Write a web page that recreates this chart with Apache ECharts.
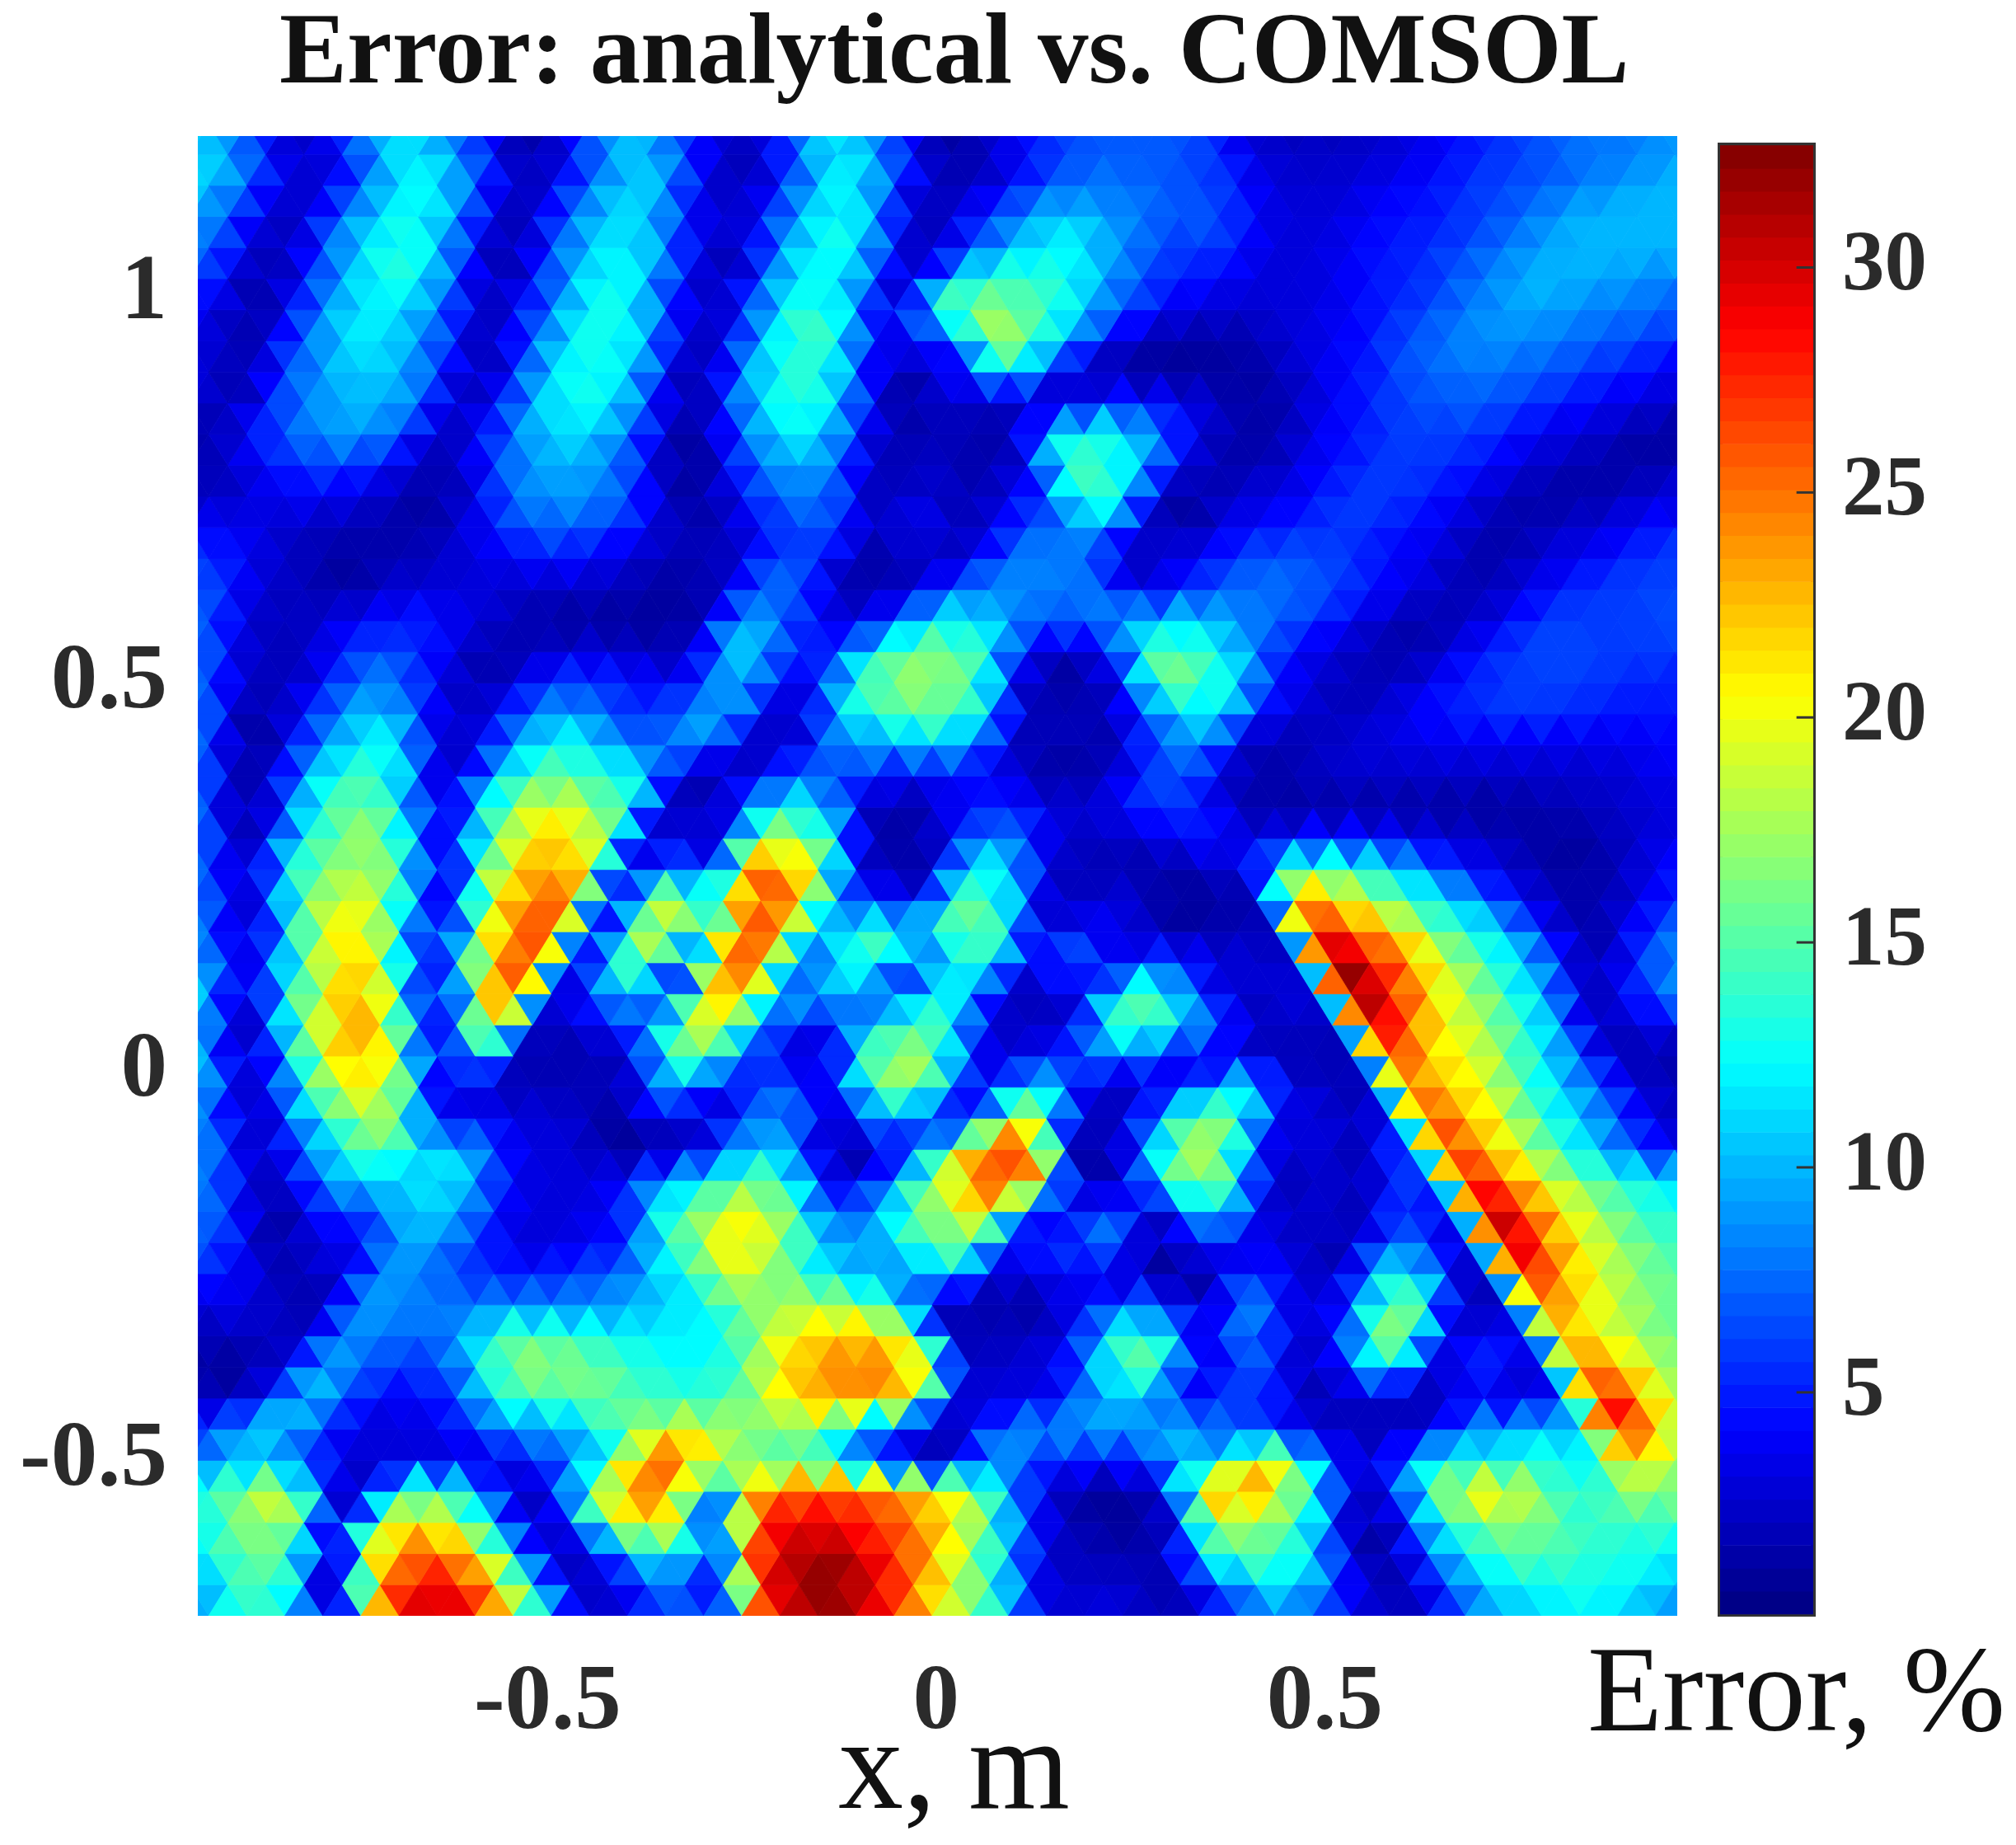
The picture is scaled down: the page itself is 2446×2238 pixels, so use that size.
<!DOCTYPE html>
<html>
<head>
<meta charset="utf-8">
<title>Error: analytical vs. COMSOL</title>
<script src="https://cdn.jsdelivr.net/npm/echarts@6/dist/echarts.min.js"></script>
<style>
  html, body { margin: 0; padding: 0; background: #fff; }
  #chart { width: 2446px; height: 2238px; }
</style>
</head>
<body>
<div id="chart"></div>
<script>
// Error (%) at each mesh node, top row first
const row48 = [11,10,6,2,4,9,12,9,5,1,3,8,11,7,3,2,6,12,10,5,1,2,4,6,7,7,7,6,3,2,2,2,3,4,5,6,7,8,8,9,9];
const row47 = [11,10,6,2,4,9,12,9,5,1,3,8,11,7,3,2,6,12,10,5,1,2,4,6,7,7,7,6,3,2.5,2.5,2.5,3,4,5,6,7,8,8,9,9];
const row46 = [11,11,7,3,3,7,12,12,7,2,4,8,11,9,3,1,6,11,12,6,2,2,4,7,8,8,7,6,5,3,2.5,3,4,4.5,6,6.5,7,8,9,10,10];
const row45 = [9,7,3,2,8,11,13,9,3,2,7,11,11,5,3,4,9,13,9,2,3,6,9,11,9,8,7,7,4,3,3,4,4.5,5,6,7.5,9.5,10,10,10,10];
const row44 = [8,8,3,2,7,11,14,10,4,1,7,11,12,8,3,2,9,13,12,5,1.5,6,10,12,12,9,6,6,5,3,3,4,5,5.5,6.5,8,9,10,10,10,10];
const row43 = [6,4,1,4,9,13,13,7,1.5,4,9,13,11,5,1,6,12,12,6,2,11,14,14,13,9,7,5,4.5,3,3,3.5,4.5,5,6.5,8,10,10,9.5,9,8,8];
const row42 = [4,4,1,4,9,12,11,8,2,4,8,13,12,5,2,6,12,14,9,2,15,16,17,14,11,7,4,3,2.5,3,3,4,5.5,6,8,9,9.5,8.5,8,7.5,7];
const row41 = [3,2,2,7,11,12,9,5,1.5,7,12,13,11,4,2,9,15,13,4,5,4,19,15,10,4,2,1,1.5,1.5,3,4,4.5,7,8,9,8.5,8,7,6.5,5,5];
const row40 = [3,3,1.5,7,9,11,10,6,1.5,5,11,13,11,3,1,10,13,13,7,1,3,6,13,6,2,1,1,1,1,2,3,4.5,6,7,8,7.5,7,6,5,4.5,3];
const row39 = [3,1.5,4,8,10,10,8,2,4,10,13,12,7,2,4,10,15,11,4,1,3,2,2,2,6,5,4,2.5,1,2,4,5,6.5,7,7,6,5,4,3,2.5,2];
const row38 = [1.5,1.5,5,7,9,9,7,2,4,8,11,11,8,2,1,8,12,11,5,1.5,2,1,2,11,13,12,8,3,1.5,1.5,3.5,4.5,6,6,6,5,3.5,3,2,1.2,1];
const row37 = [2,2,4,6,6,5,2,2,6,9,10,8,4,1,3,7,10,8,2,2,2.5,1.5,3,14,14,10,4,1.5,1.5,3,4.5,5.5,6,5.5,4.5,3,2,1.5,1,2,2];
const row36 = [2,2,3,4,4,3,2,1,3,8,9,9,7,2,1,5,8,8,3,2,3,1,4,6,15,12,2,1,3,3,4.5,6,6,5,3.5,2,1.5,1,2,3,3];
const row35 = [4,4,3,2,2,1.5,1,3,5,7,7,6,4,2,1.5,4,6,7,2,5,2,3,6,8,10,3,1,3,4.5,5,6,5.5,4.5,3.5,2,1.2,2.5,3,4,5,5];
const row34 = [6,6,4,2.5,1.5,1,2,2,3,4,5,4,3,1.5,2,3,7,5,1.5,1.5,2,3,8,9,7,1,3,4,6,7,6.5,5.5,4,3.5,1.5,1.5,3,3.5,5,6,6];
const row33 = [7,5,2.5,2,1,2.5,3,3,3,2,2.5,2,1.5,1,2,8,7,2,1.5,3,7,9,8,8,8,3,5,7,8,7.5,6.5,5,3.5,2,2,3,5,6,6,6.5,6.5];
const row32 = [7,7,3,2,3,4,5,5,3,2,1,1,1,1,2,10,7,4,3,7,12,12,9,7,7,9,11,11,9,7,6,3.5,2,1.5,2,4,6,6,6,6.5,6.5];
const row31 = [8,4,2,2,5,7,5,3,1,2,3,3,2,2,10,11,5,6,13,16,16,13,4,2,4,13,16,12,8,4,3,2,1,3,5,6,7,6,6,6,6];
const row30 = [7,7,2.5,2,4,8,8,4,1.5,3,6,6,5,4,5,10,3,5,14,17,17.5,15,5,1,1,4,16,15,12,5,3,1.5,2,3.5,5,6,6,6,5.5,5,5];
const row29 = [9,3,1,5,9,11,6,2,4,8,10,7,5,9,10,5,2,10,14,15,15,11,1.5,3,1.5,7,10,12,5,3,2,2.5,4,5,5.5,6,5.5,5,4.5,5,5];
const row28 = [7,7,1,3,8,12,12,3,3,9,13,12,8,7,9,2,1.5,6,9,9,11,8,3,1.5,1.5,2,6,10,3,1,2,3,3,3.5,3.5,3.5,3.5,3.5,3.5,4,4];
const row27 = [8,2,2,10,14,14,7,1.5,10,15,15,13,12,2,1,5,7,7,5,3.5,5,4,2,1,2,6,7,3,1.5,2,2.5,2.5,2.5,2.5,2.5,2.5,2.5,2.5,3,4,4];
const row26 = [7,7,1,6,13,17,11,3,11,17,20,18,14,2,2,7,13,12,3,1.5,2,4,6,3,3,4,6,5,2,1,1.2,1.2,1.2,1.2,1,1,1.5,2,2.5,3,3];
const row25 = [9,2,3,13,16,17,9,3,15,22,21,16,1.5,5,2,18,17,11,1.5,1,5,9,6,2.5,2,3,4,5,3,5,5,5,4,3,2.5,1.5,1,1.5,2.5,3.5,4];
const row24 = [7,7,3,12,16,18,14,3,14,20,24,20,2,9,3,22,26,19,3,2,1.5,12,12,3,2,1.5,1,2,3,12,16,14,12,8,4.5,3,1.5,1,2,4,5];
const row23 = [9,3,4,15,20,18,8,3,20,26,24,2,16,19,14,28,21,8,6,3,15,14,6,1.5,3,3,1,1,1.5,24,22,18,14,12,8,4,2,1.5,3,5,6];
const row22 = [8,8,2,11,19,21,12,4,16,24,26,3,11,20,9,26,23,10,12,15,10,18,12,2,6,3,1,1.5,2,2,30,25,23,17,13,11,5,1,3,7,8];
const row21 = [10,4,5,15,22,19,5,9,23,27.5,1.5,12,20,2,25,25,1.5,12,15,4,12,13,3,10,3,6,7,3,3,2,33,29,24,19,15,11,6,1.5,5,9,9];
const row20 = [11,11,2.5,12,18,24,14,2,17,26,3,6,11,2,21,22,9,11,9,4,14,9,2.5,2,3,14,15,5,2,3,3,33,28,22,18,14,10,2,4,7,9];
const row19 = [10,1.5,5,17,23,21,7,6,23,3,2,5,8,18,19,8,6,3,11,15,12,3,2,3,13,15,11,9,2,2.5,2,31,26,20,18,14,9,1.5,3,4,4];
const row18 = [10,10,2,9,18,24,17,1,15,2,1,2,2,13,16,8,2.5,2,14,18,16,6,2.5,5,6,9,6,2,3,2,1.5,2,27,22,20,16,12,7,2,1.5,1.5];
const row17 = [11,4,3,13,20,20,10,3,2,2,2,1.5,6,10,2,6,8,3,14,18,9,3,14,8,2,2,4,11,12,3,2,2,25,22,20,15,11,7,3,2,2];
const row16 = [8,8,1.5,6,13,17,16,3,5,3,3,2,1,5,2,7,9,2,7,10,5,3,20,14,2,3,11,17,14,3,4,1.5,6,27,23,19,14,11,7,3,2];
const row15 = [9,6,2,7,12,17,10,12,6,3,3,1,1,1,7,11,8,1,1.5,5,17,25,27,3,1,6,16,18,7,2,3,2,6,27,23,19,14,10,6,4,5];
const row14 = [8,8,3,2.5,9,11,11,12,9,4,3,3,5,11,11,15,15,5,3,9,17,25,26,19,1,3,14,18,10,2,3,1,6,5,29,25,20,16,14,12,11];
const row13 = [8,6,1,3,6,7,11,10,5,3,3,4,9,15,20,19,14,6,9,16,18,22,5,2,8,1.5,5,14,5,1.5,3,2,6,3,31,27,21,18,14,13,13];
const row12 = [7,7,4,1,4,3,10,9,6,3,3,4,5,14,17,22,18,11,9,12,15,16,5,5,7,8,1,6,3,3,2.5,1.5,8,6,2,32,26,20,17,15,14];
const row11 = [6,4,2,2,3,9,8,6,5,5,6,7,10,12,20,17,14,11,9,8,12,3,3,5,2,1.5,1,2,7,3,1.5,9,14,5,2,29,24,20,17,15,15];
const row10 = [3,3,4,2,1,9,9,8,8,9,8,9,9,11,12,16,18,18,17,13,2,1.5,1.5,1,4,8,7,1.5,9,5,3,6,16,12,2,2,25,21,18,16,16];
const row9 = [2,2,2,2.5,9,8,7,9,14,15,14,13,12,12,13,17,21,22,22,17,2,2,2,4,11,15,8,3,9,2.5,4,15,18,2,5,3,23,20,18,15,15];
const row8 = [1,1,1,3,11,7,6,6,11,17,17,16,14,13,12,15,21,24,25,24,19,2,3,3,7,15,15,3,7,5,1.5,7,13,3,5,5,3,25,23,18,17];
const row7 = [3,1.5,5,11,7,4,4,6,13,14,15,16,14,14,14,18,22,23,24,19,3,3,3,5,11,9,4,5,6,3,1.5,3,2,2,4,1,7,29,24,18,18];
const row6 = [6,6,11,11,6,3,3,3.5,6,9,9,11,16,19,19,17,16,17,9,7,2,3,9,9,9,9,10,10,7,5,3,2,1.5,3,9,10,11,9,31,22,18];
const row5 = [7,10,9,6,3,3,3,3,3,5,8,12,24,28,18,15,15,11,5,2,2,10,6,5,5,5,10,8,23,15,6,3,9,13,11,13,13,13,22,17,17];
const row4 = [14,14,17,21,7,1,14,15,11,1.5,4,17,25,24,5,20,25,26,26,24,21,18,9,3,1,1,3,23,24,21,14,2,4,15,21,21,17,12,17,17,16];
const row3 = [11,15,18,14,1.5,18,21,18,10,2,6,17,21,18,5,28,29,29,27,25,21,15,6,2,1,1,3,17,18,14,6,1,5,13,16,17,15,14,14,14,14];
const row2 = [13,13,16,15,1,17,25,25,22,11,1.5,3,10,14,6,20,30,32,30,27,23,17,10,3,2,1.5,2,13,15,15,11,2.5,1,8,12,15,15,14,13,13,11];
const row1 = [6,13,15,10,1,22,29,28,22,12,2.5,3,6,8,2,29,31,33,30,25,19,14,5,2,3,2,1,6,11,12,7,3,1.5,6,11,12,13,13,12,10,10];
const row0 = [11,11,14,12,1,18,29,31,29,20,11,2,3,7,5,17,29,32,30,27,21,17,11,3,3,3,2,3,6,8,7,3,2,3,7,10,11,12,11,9,9];

const errorRows = [row48,row47,row46,row45,row44,row43,row42,row41,row40,row39,row38,row37,row36,row35,row34,row33,row32,
    row31,row30,row29,row28,row27,row26,row25,row24,row23,row22,row21,row20,row19,row18,row17,row16,
    row15,row14,row13,row12,row11,row10,row9,row8,row7,row6,row5,row4,row3,row2,row1,row0];

// Tick labels
const xTicks = [-0.5, 0, 0.5];
const yTicks = [-0.5, 0, 0.5, 1];
const barTicks = [5, 10, 15, 20, 25, 30];

// The 64 colour levels of the colour bar
const barLevels = [0.33,0.84,1.35,1.86,2.37,2.88,3.39,3.9,4.41,4.92,5.43,5.94,6.45,6.96,7.47,7.98,
    8.49,9,9.51,10.02,10.53,11.04,11.55,12.06,12.57,13.08,13.59,14.1,14.61,15.12,15.63,16.14,
    16.65,17.16,17.67,18.18,18.69,19.2,19.71,20.22,20.73,21.24,21.75,22.26,22.77,23.28,23.79,24.3,
    24.81,25.32,25.83,26.34,26.85,27.36,27.87,28.38,28.89,29.4,29.91,30.42,30.93,31.44,31.95,32.46];
const barStep = 0.51;

const jetColors = ['#00007f','#0000ff','#007fff','#00ffff','#7fff7f','#ffff00','#ff7f00','#ff0000','#7f0000'];
const errorMin = 0.07;
const errorMax = 32.72;

// Mesh spacing in metres. Rows are staggered by half a column.
const rowStep = 0.04;
const colStep = 0.049;
const bottomY = -0.7;
const oddStartX = -0.9605;
const evenStartX = -0.985;

function nodeX(k, j) {
    return (k % 2 ? oddStartX : evenStartX) + colStep * j;
}
function nodeY(k) {
    return bottomY + rowStep * k;
}
function nodeValue(k, j) {
    return errorRows[errorRows.length - 1 - k][j];
}

// Flat colour of a triangle from its corners, mostly the mean with some median to keep edges sharper
function faceValue(tri) {
    const v = tri.map(function (c) { return nodeValue(c[0], c[1]); }).sort(function (a, b) { return a - b; });
    return (v[1] + 3 * (v[0] + v[1] + v[2]) / 3) / 4;
}

function buildTriangles() {
    let list = [];
    for (let k = 0; k < errorRows.length - 1; k++) {
        for (let j = 0; j < 40; j++) {
            let corners;
            if (k % 2 === 0) {
                corners = [[[k, j], [k, j + 1], [k + 1, j]], [[k + 1, j], [k + 1, j + 1], [k, j + 1]]];
            } else {
                corners = [[[k, j], [k, j + 1], [k + 1, j + 1]], [[k + 1, j], [k + 1, j + 1], [k, j]]];
            }
            corners.forEach(function (tri) {
                list.push({ corners: tri, value: faceValue(tri) });
            });
        }
    }
    return list;
}
const triangles = buildTriangles();

function renderTriangle(params, api) {
    const tri = triangles[params.dataIndex];
    const color = api.visual('color');
    return {
        type: 'polygon',
        shape: {
            points: tri.corners.map(function (c) {
                return api.coord([nodeX(c[0], c[1]), nodeY(c[0])]);
            })
        },
        style: { fill: color, stroke: color, lineWidth: 0.8 }
    };
}

function renderBand(params, api) {
    const level = api.value(0);
    const p0 = api.coord([0, level + barStep / 2]);
    const p1 = api.coord([1, level - barStep / 2]);
    return {
        type: 'rect',
        shape: { x: p0[0], y: p0[1], width: p1[0] - p0[0], height: p1[1] - p0[1] + 0.6 },
        style: { fill: api.visual('color') }
    };
}

// Short ticks on the inner right side of the colour bar
function renderBarTick(params, api) {
    const p0 = api.coord([0.82, api.value(0)]);
    const p1 = api.coord([1, api.value(0)]);
    return {
        type: 'line',
        shape: { x1: p0[0], y1: p0[1], x2: p1[0], y2: p1[1] },
        style: { stroke: '#333', lineWidth: 3 }
    };
}

const serif = '"Liberation Serif", "Times New Roman", serif';
const tickStyle = { fontFamily: serif, fontWeight: 'bold', fontSize: 113, color: '#2b2b2b' };

const myChart = echarts.init(document.getElementById('chart'), null, { renderer: 'canvas' });
myChart.setOption({
    animation: false,
    backgroundColor: '#fff',
    title: [
        {
            text: 'Error: analytical vs. COMSOL',
            left: 334, top: 2,
            textStyle: { fontFamily: serif, fontWeight: 'bold', fontSize: 123, color: '#111' }
        },
        {
            text: 'Error, %',
            left: 1921, top: 1980,
            textStyle: { fontFamily: serif, fontWeight: 'normal', fontSize: 149, color: '#111' }
        },
        {
            text: 'x, m',
            left: 1012, top: 2067,
            textStyle: { fontFamily: serif, fontWeight: 'normal', fontSize: 158, color: '#111' }
        }
    ],
    grid: [
        // outerBoundsMode none: keep the plot where it is even though the labels run close to the page edge
        { left: 240, top: 165, width: 1795, height: 1795, outerBoundsMode: 'none' },
        { left: 2087, top: 176, width: 113, height: 1782, show: true, borderColor: '#333', borderWidth: 6, outerBoundsMode: 'none' }
    ],
    xAxis: [
        {
            type: 'value', gridIndex: 0, min: -0.95, max: 0.9535,
            axisLine: { show: false }, axisTick: { show: false }, splitLine: { show: false },
            axisLabel: { customValues: xTicks, margin: 50, formatter: function (v) { return String(v); }, ...tickStyle }
        },
        { type: 'value', gridIndex: 1, min: 0, max: 1, show: false }
    ],
    yAxis: [
        {
            type: 'value', gridIndex: 0, min: -0.7, max: 1.2035,
            axisLine: { show: false }, axisTick: { show: false }, splitLine: { show: false },
            axisLabel: { customValues: yTicks, margin: 37, padding: [12, 0, 0, 0], formatter: function (v) { return String(v); }, ...tickStyle }
        },
        {
            type: 'value', gridIndex: 1, min: errorMin, max: errorMax, position: 'right',
            axisLine: { show: false }, splitLine: { show: false }, axisTick: { show: false },
            axisLabel: { customValues: barTicks, margin: 35, padding: [12, 0, 0, 0], ...tickStyle, fontSize: 103 }
        }
    ],
    visualMap: [
        { show: false, type: 'continuous', seriesIndex: 0, dimension: 0, min: errorMin, max: errorMax, inRange: { color: jetColors } },
        { show: false, type: 'continuous', seriesIndex: 1, dimension: 0, min: errorMin, max: errorMax, inRange: { color: jetColors } }
    ],
    series: [
        {
            type: 'custom', xAxisIndex: 0, yAxisIndex: 0, clip: true, progressive: 0, silent: true,
            renderItem: renderTriangle,
            data: triangles.map(function (t) { return [t.value]; })
        },
        {
            type: 'custom', xAxisIndex: 1, yAxisIndex: 1, progressive: 0, silent: true,
            renderItem: renderBand,
            data: barLevels.map(function (v) { return [v]; })
        },
        {
            type: 'custom', xAxisIndex: 1, yAxisIndex: 1, silent: true, z: 5,
            renderItem: renderBarTick,
            data: barTicks.map(function (v) { return [v]; })
        }
    ]
});
</script>
</body>
</html>
